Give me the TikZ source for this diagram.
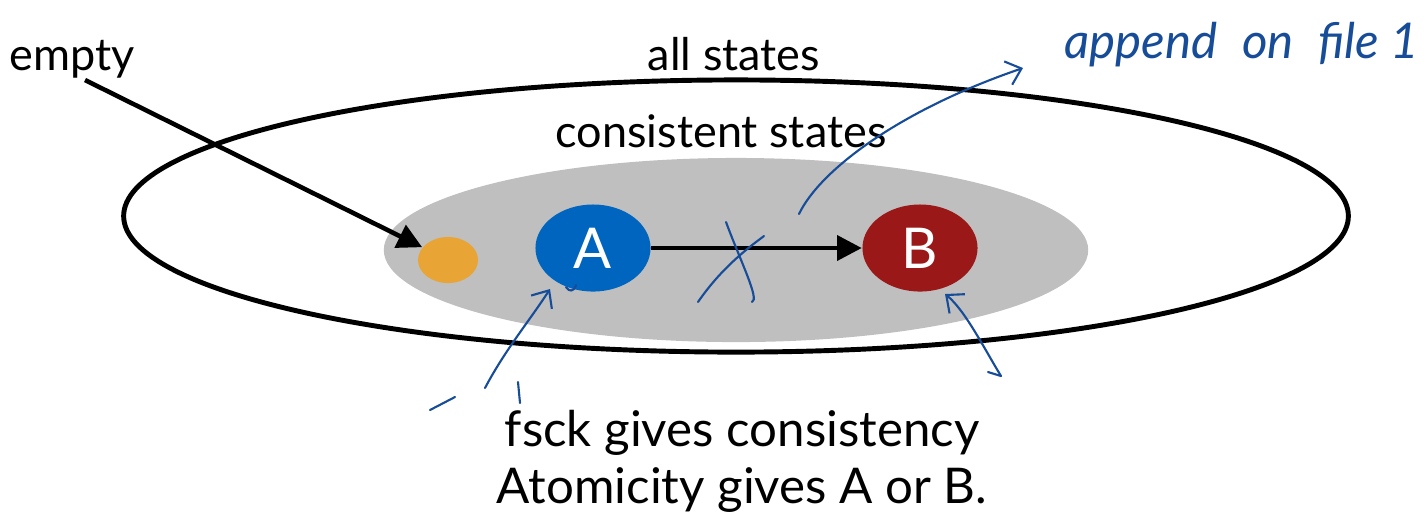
\documentclass[tikz,border=0pt]{standalone}
\usepackage{fontspec}
\setmainfont{Lato}
\usetikzlibrary{shapes.geometric,arrows.meta}
\definecolor{ablue}{RGB}{0,101,191}
\definecolor{bred}{RGB}{154,24,24}
\definecolor{dotorange}{RGB}{232,164,53}
\definecolor{consgray}{RGB}{191,191,191}
\definecolor{hand}{RGB}{22,76,152}
\tikzset{
  state/.style={ellipse,minimum width=1.15cm,minimum height=0.87cm,inner sep=0pt,text=white,font=\fontsize{16}{18}\selectfont},
  lbl/.style={anchor=base,font=\fontsize{12.8}{15}\selectfont},
  blackarrow/.style={line width=1.3pt,-{Triangle[length=7pt,width=7pt]}},
  pen/.style={hand,line width=0.6pt,line cap=round,line join=round},
  penarrow/.style={pen,-{Straight Barb[length=4pt,width=7pt]}}
}
\begin{document}
\begin{tikzpicture}[x=0.01cm,y=-0.01cm]
\useasboundingbox (0,0) rectangle (1428,520);
\node[ellipse,draw,line width=1.4pt,minimum width=12.24cm,minimum height=2.72cm] (all) at (736,216) {};
\node[ellipse,fill=consgray,minimum width=7.04cm,minimum height=1.84cm] (cons) at (736,250) {};
\node[ellipse,fill=dotorange,minimum width=0.6cm,minimum height=0.46cm] (dot) at (448,260) {};
\node[state,fill=ablue] (A) at (593,248) {A};
\node[state,fill=bred] (B) at (920,248) {B};
\node[lbl] (emptylbl) at (72,70) {empty};
\node[lbl] (alllbl) at (734,70) {all states};
\node[lbl] (conslbl) at (721,147) {consistent states};
\node[anchor=base,align=center,font=\fontsize{14}{16}\selectfont] (fsck) at (742,503) {fsck gives consistency\\Atomicity gives A or B.};
\draw[blackarrow] ([shift={(13,10)}]emptylbl.base) -- (dot);
\draw[blackarrow] (A) -- (B);
\node[anchor=base west,hand,font=\itshape\fontsize{14}{17}\selectfont] (note) at (1052,58) {append\enspace on\enspace file 1};
\coordinate (notetip) at (1023,68);
\coordinate (xstart) at (799,214);
\draw[penarrow] (xstart) .. controls (820,170) and (900,110) .. (notetip);
\draw[pen] (726,222) .. controls (740,260) and (760,300) .. (752,302);
\draw[pen] (698,302) .. controls (720,270) and (745,250) .. (764,236);
\draw[penarrow] (485,388) .. controls (505,350) and (530,320) .. (550,289);
\draw[pen] (566,287) .. controls (569,292) and (574,292) .. (576,285);
\draw[penarrow] (1001,376) .. controls (985,350) and (965,310) .. (945,294);
\draw[pen] (988,372) -- (1001,376);
\draw[pen] (430,410) -- (455,397);
\draw[pen] (518,382) -- (520,403);
\end{tikzpicture}
\end{document}
